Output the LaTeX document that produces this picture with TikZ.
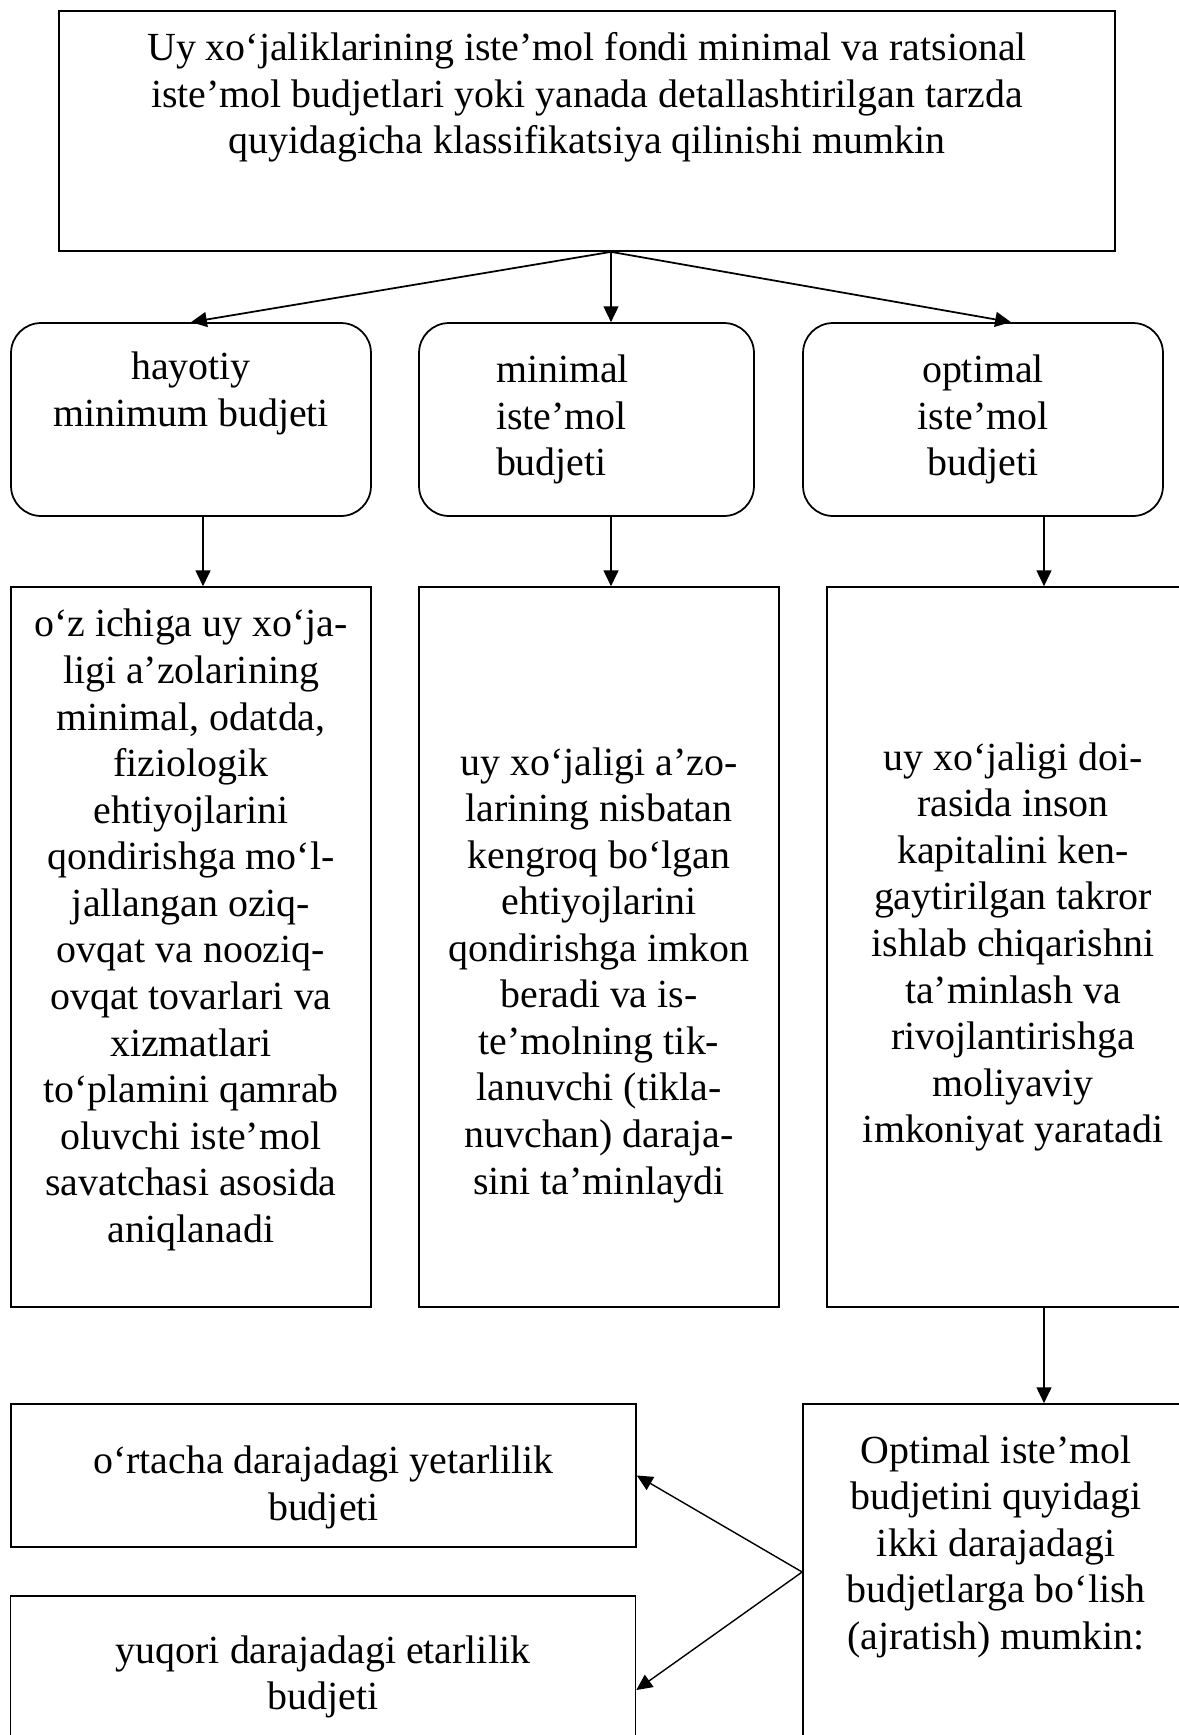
\documentclass[tikz,border=0pt]{standalone}
\usepackage{fontspec}
\setmainfont{Liberation Serif}
\usetikzlibrary{positioning,arrows.meta}

\begin{document}
\begin{tikzpicture}[
  x=0.02cm,y=-0.02cm,
  font=\fontsize{22.7pt}{26.5pt}\selectfont,
  box/.style={draw,line width=1pt,minimum width=7.2cm,inner sep=0pt},
  rbox/.style={box,rounded corners=0.6cm,minimum height=3.86cm,align=center},
  tallbox/.style={box,minimum height=14.4cm},
  txt/.style={align=center,inner sep=0pt},
  arr/.style={-{Triangle[length=9pt,width=8.5pt]},line width=0.8pt}
]
\useasboundingbox (0,0) rectangle (1179,1735);
\clip (0,0) rectangle (1179,1735);

% columns of the vertical connectors
\coordinate (colA) at (203,0);
\coordinate (colB) at (611,0);
\coordinate (colC) at (1044,0);

\node[box,minimum width=21.12cm,minimum height=4.8cm] (top) at (587,131) {};
\node[txt,below=0.44cm of top.north] (toptxt) {Uy xo‘jaliklarining iste’mol fondi minimal va ratsional\\iste’mol budjetlari yoki yanada detallashtirilgan tarzda\\quyidagicha klassifikatsiya qilinishi mumkin};

\node[rbox] (hayot) at (191,419.5) {hayotiy\\minimum budjeti\\\strut};
\node[rbox,minimum width=6.7cm,align=left,text width=3.62cm] (minb) at (586.5,419.5) {minimal\\iste’mol\\budjeti};
\node[rbox] (optim) at (983,419.5) {optimal\\iste’mol\\budjeti};

\node[tallbox] (hayotd) at (191,947) {};
\node[txt] (hayottxt) at ([yshift=0.34cm]hayotd.center) {o‘z ichiga uy xo‘ja-\\ligi a’zolarining\\minimal, odatda,\\fiziologik\\ehtiyojlarini\\qondirishga mo‘l-\\jallangan oziq-\\ovqat va nooziq-\\ovqat tovarlari va\\xizmatlari\\to‘plamini qamrab\\oluvchi iste’mol\\savatchasi asosida\\aniqlanadi};
\node[tallbox] (minbd) at (599,947) {};
\node[txt] (minbtxt) at ([yshift=-0.56cm]minbd.center) {uy xo‘jaligi a’zo-\\larining nisbatan\\kengroq bo‘lgan\\ehtiyojlarini\\qondirishga imkon\\beradi va is-\\te’molning tik-\\lanuvchi (tikla-\\nuvchan) daraja-\\sini ta’minlaydi};
\node[tallbox,minimum width=7.44cm,align=center] (optimd) at (1013,947) {uy xo‘jaligi doi-\\rasida inson\\kapitalini ken-\\gaytirilgan takror\\ishlab chiqarishni\\ta’minlash va\\rivojlantirishga\\moliyaviy\\imkoniyat yaratadi};

\node[box,minimum width=7.72cm,minimum height=7.92cm] (opt) at (996,1602) {};
\node[txt,below=0.64cm of opt.north] (opttxt) {Optimal iste’mol\\budjetini quyidagi\\ikki darajadagi\\budjetlarga bo‘lish\\(ajratish) mumkin:};

\node[box,minimum width=12.5cm,minimum height=2.86cm] (orta) at (323.5,1475.5) {};
\node[txt] (ortatxt) at ([yshift=-0.24cm]orta.center) {o‘rtacha darajadagi yetarlilik\\budjeti};
\node[box,minimum width=12.5cm,minimum height=3.24cm,align=center] (yuqori) at (323,1677) {yuqori darajadagi etarlilik\\budjeti};

\draw[arr,line width=1pt] (top.south -| colB) -- (hayot.north);
\draw[arr] (top.south -| colB) -- (minb.north -| colB);
\draw[arr,line width=1pt] (top.south -| colB) -- ([xshift=0.56cm]optim.north);
\draw[arr] (hayot.south -| colA) -- (hayotd.north -| colA);
\draw[arr] (minb.south -| colB) -- (minbd.north -| colB);
\draw[arr] (optim.south -| colC) -- (optimd.north -| colC);
\draw[arr] (optimd.south -| colC) -- (opt.north -| colC);

\coordinate (split) at ([yshift=0.6cm]opt.west);
\draw[arr] (split) -- (orta.east);
\draw[arr] (split) -- ([yshift=-0.26cm]yuqori.east);
\end{tikzpicture}
\end{document}
